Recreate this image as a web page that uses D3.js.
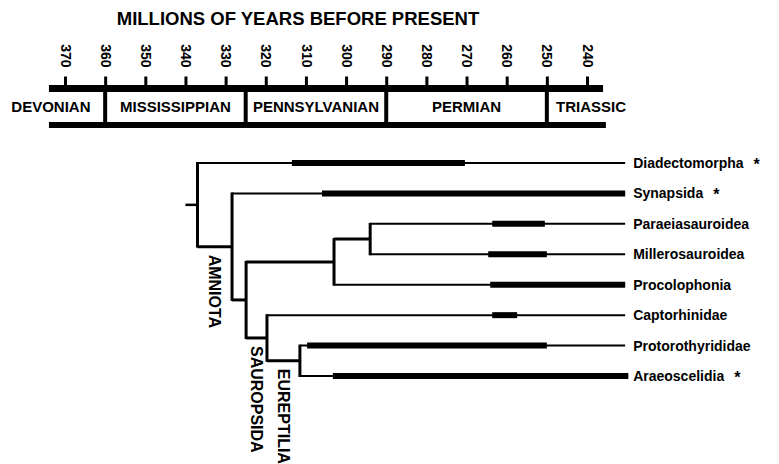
<!DOCTYPE html>
<html>
<head>
<meta charset="utf-8">
<script src="https://cdn.jsdelivr.net/npm/d3@7"></script>
<style>
  body { margin: 0; background: #fff; }
  text { font-family: "Liberation Sans", Arial, sans-serif; font-weight: bold; fill: #000; }
</style>
</head>
<body>
<svg id="chart" width="779" height="464"></svg>
<script>
// time scale (Ma)
const tickValues = [370, 360, 350, 340, 330, 320, 310, 300, 290, 280, 270, 260, 250, 240];
const barFrom = 374, barTo = 236;

// geologic periods
const periods = ["DEVONIAN", "MISSISSIPPIAN", "PENNSYLVANIAN", "PERMIAN", "TRIASSIC"];
const periodStart = [387, 360, 325, 290, 250];
const periodEnd = [360, 325, 290, 250, 228];

// terminal taxa, top to bottom
const taxa = ["Diadectomorpha", "Synapsida", "Paraeiasauroidea", "Millerosauroidea",
              "Procolophonia", "Captorhinidae", "Protorothyrididae", "Araeoscelidia"];
const taxonParent = ["n0", "n1", "n4", "n4", "n3", "n5", "n6", "n6"];
const starred = [true, true, false, false, false, false, false, true];
// known fossil record (thick bars)
const rangeStart = [313.5, 306, 263.6, 264.6, 264.1, 263.6, 309.7, 303.3];
const rangeEnd = [270.4, 230.5, 250.5, 250, 230.5, 257.4, 250, 229.7];
const tipAge = 230.5;

// internal nodes and their divergence ages
const nodeIds = ["n0", "n1", "n2", "n3", "n4", "n5", "n6"];
const nodeParent = ["", "n0", "n1", "n2", "n3", "n2", "n5"];
const nodeAges = [337, 328.4, 324.9, 303, 294, 319.7, 311.5];
const rootStubAge = 340;

// clade names, set under the branch that enters the node
const cladeNames = ["AMNIOTA", "SAUROPSIDA", "EUREPTILIA"];
const cladeNode = ["n1", "n5", "n6"];

const svg = d3.select("#chart");
const x = d3.scaleLinear().domain([370, 240]).range([65, 587]);
const y = d3.scalePoint().domain(taxa).range([163, 376]);

// ----- title -----
svg.append("text")
    .attr("x", 298).attr("y", 25)
    .attr("text-anchor", "middle")
    .style("font-size", "18.5px")
    .text("MILLIONS OF YEARS BEFORE PRESENT");

// ----- time axis -----
const TOP = 88.5, BOT = 125;
const axis = d3.axisTop(x).tickValues(tickValues).tickSize(9).tickFormat(d3.format("d"));
const ax = svg.append("g").attr("transform", `translate(0,${TOP - 3})`).call(axis);
ax.select(".domain").remove();
ax.selectAll(".tick line").attr("stroke", "#000").attr("stroke-width", 3);
ax.selectAll(".tick text")
    .attr("transform", "rotate(90)")
    .attr("x", -18).attr("y", 0).attr("dy", "0.35em")
    .attr("text-anchor", "end")
    .attr("fill", "#000")
    .style("font-size", "14px")
    .style("font-family", "'Liberation Sans', Arial, sans-serif")
    .style("font-weight", "bold");

svg.append("line")
    .attr("x1", x(barFrom)).attr("x2", x(barTo))
    .attr("y1", TOP).attr("y2", TOP)
    .attr("stroke", "#000").attr("stroke-width", 7);
svg.append("line")
    .attr("x1", x(barFrom)).attr("x2", x(barTo - 0.7))
    .attr("y1", BOT).attr("y2", BOT)
    .attr("stroke", "#000").attr("stroke-width", 6);

// period boundaries
svg.selectAll("line.bound")
    .data(periodStart.slice(1))
    .join("line")
    .attr("class", "bound")
    .attr("x1", d => x(d)).attr("x2", d => x(d))
    .attr("y1", TOP).attr("y2", BOT)
    .attr("stroke", "#000").attr("stroke-width", 4);

svg.selectAll("text.period")
    .data(periods)
    .join("text")
    .attr("class", "period")
    .attr("x", (d, i) => (x(periodStart[i]) + x(periodEnd[i])) / 2)
    .attr("y", (TOP + BOT) / 2)
    .attr("dy", "0.36em")
    .attr("text-anchor", "middle")
    .style("font-size", "15px")
    .text(d => d);

// ----- tree -----
const rows = nodeIds.map((id, i) => ({ id, parentId: nodeParent[i] || null, age: nodeAges[i] }))
    .concat(taxa.map((t, i) => ({ id: t, parentId: taxonParent[i], age: tipAge, idx: i })));
const root = d3.stratify().id(d => d.id).parentId(d => d.parentId)(rows);

// leaves follow the taxon order, internal nodes sit between their children
root.sort((a, b) => order(a) - order(b));
function order(n) { return n.children ? d3.min(n.leaves(), l => l.data.idx) : n.data.idx; }
root.eachAfter(n => {
    n.px = x(n.data.age);
    n.py = n.children ? (n.children[0].py + n.children[n.children.length - 1].py) / 2 : y(n.data.id);
});

const tree = svg.append("g").attr("stroke", "#000").attr("fill", "none");

// root stub
tree.append("line")
    .attr("x1", x(rootStubAge)).attr("x2", root.px)
    .attr("y1", root.py).attr("y2", root.py)
    .attr("stroke-width", 2.5);

// verticals at each split
tree.selectAll("line.v")
    .data(root.descendants().filter(n => n.children))
    .join("line")
    .attr("class", "v")
    .attr("x1", n => n.px).attr("x2", n => n.px)
    .attr("y1", n => n.children[0].py - 1)
    .attr("y2", n => n.children[n.children.length - 1].py + 1)
    .attr("stroke-width", 3);

// horizontal branches
tree.selectAll("line.h")
    .data(root.descendants().filter(n => n.parent))
    .join("line")
    .attr("class", "h")
    .attr("x1", n => n.parent.px).attr("x2", n => n.px)
    .attr("y1", n => n.py).attr("y2", n => n.py)
    .attr("stroke-width", n => n.children ? 3 : 2);

// fossil ranges
tree.selectAll("line.range")
    .data(taxa)
    .join("line")
    .attr("class", "range")
    .attr("x1", (d, i) => x(rangeStart[i])).attr("x2", (d, i) => x(rangeEnd[i]))
    .attr("y1", d => y(d)).attr("y2", d => y(d))
    .attr("stroke-width", 6);

// taxon labels
const lab = svg.selectAll("text.taxon")
    .data(taxa)
    .join("text")
    .attr("class", "taxon")
    .attr("x", x(tipAge) + 8)
    .attr("y", d => y(d))
    .attr("dy", "0.36em")
    .style("font-size", "14px")
    .text(d => d);
lab.filter((d, i) => starred[i])
    .append("tspan")
    .attr("dx", 10)
    .attr("dy", "0.1em")
    .style("font-size", "16px")
    .text("*");

// clade labels, vertical
const byId = new Map(root.descendants().map(n => [n.id, n]));
svg.selectAll("text.clade")
    .data(cladeNames)
    .join("text")
    .attr("class", "clade")
    .attr("transform", (d, i) => {
        const n = byId.get(cladeNode[i]);
        return `translate(${(n.parent.px + n.px) / 2},${n.py + 8}) rotate(90)`;
    })
    .attr("dy", "0.36em")
    .style("font-size", "16px")
    .text(d => d);
</script>
</body>
</html>
